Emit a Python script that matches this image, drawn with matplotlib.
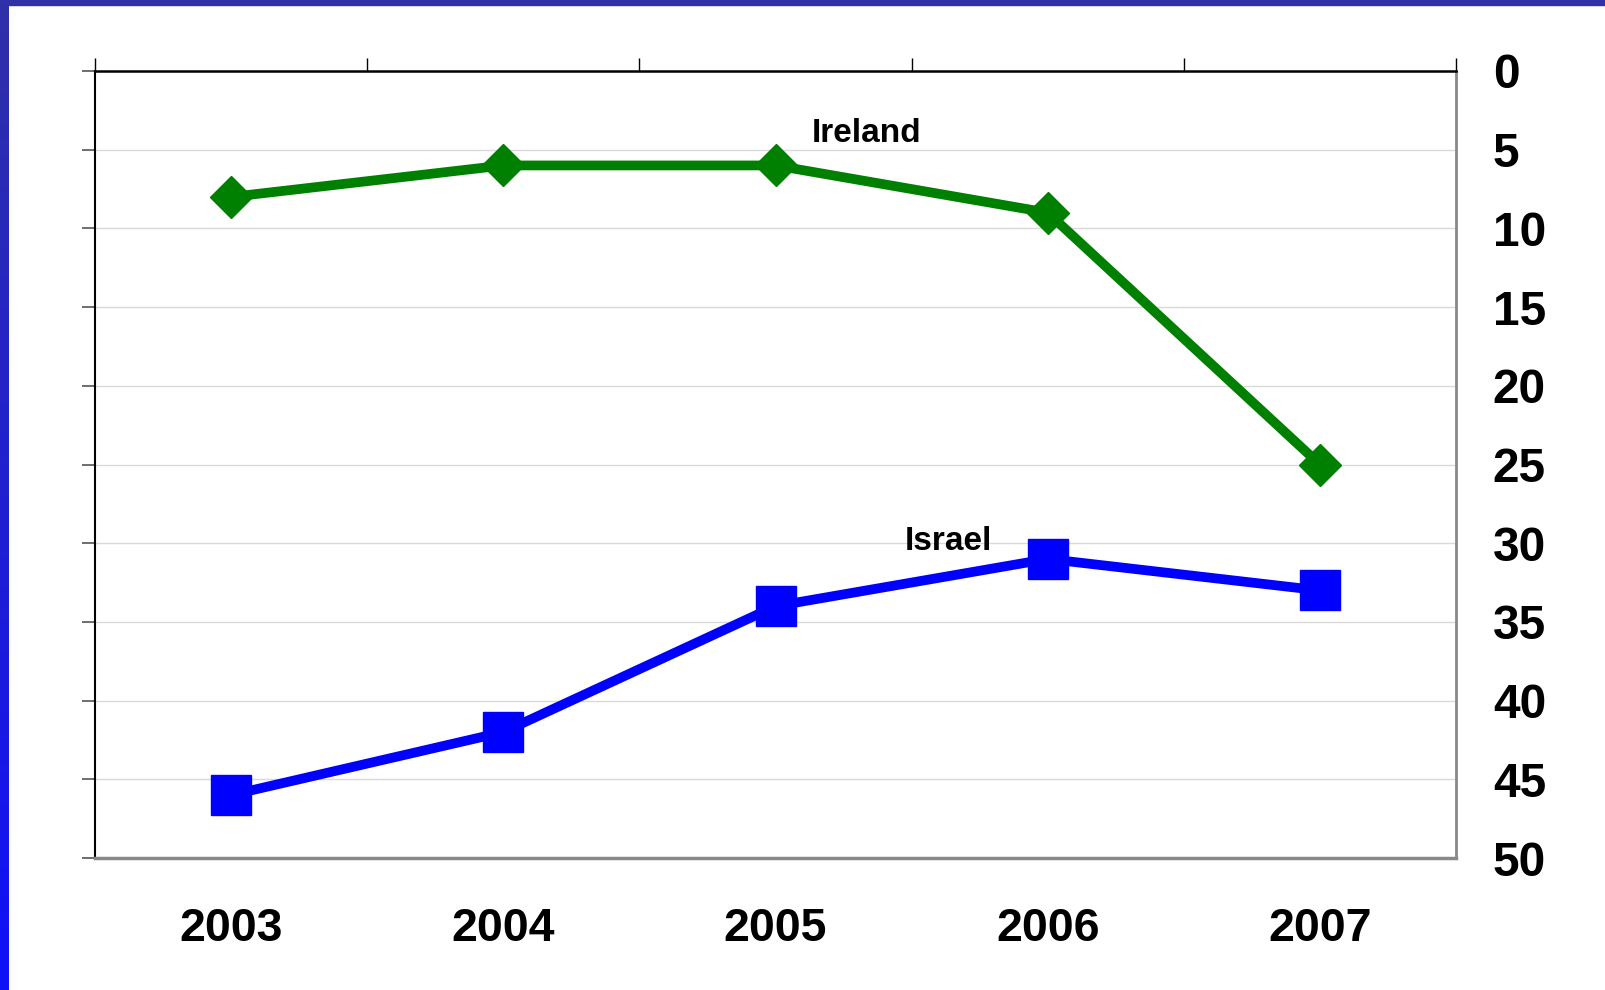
import matplotlib.pyplot as plt
import numpy as np
from matplotlib.patches import Rectangle
from matplotlib.colors import LinearSegmentedColormap

years = ['2003', '2004', '2005', '2006', '2007']
ireland = [8, 6, 6, 9, 25]
israel = [46, 42, 34, 31, 33]
y_ticks = [0, 5, 10, 15, 20, 25, 30, 35, 40, 45, 50]

plt.rcParams['font.family'] = ['Liberation Sans', 'DejaVu Sans']
plt.rcParams['font.weight'] = 'bold'

fig = plt.figure(figsize=(16.05, 9.9), dpi=100)
fig.patch.set_facecolor('white')

# blue frame: bar on top, gradient strip on the left
fig.patches.append(Rectangle((0, 1 - 5 / 990), 1, 5 / 990, transform=fig.transFigure,
                             color='#3030a8', zorder=0))
strip = fig.add_axes([0, 0, 8.5 / 1605, 1])
cmap = LinearSegmentedColormap.from_list('frame', ['#3030a8', '#1010f8'])
strip.imshow(np.linspace(0, 1, 256).reshape(-1, 1), aspect='auto', cmap=cmap)
strip.axis('off')

ax = fig.add_axes([95 / 1605, 1 - 858 / 990, (1456 - 95) / 1605, (858 - 71) / 990])
x = np.arange(len(years))

ax.plot(x, ireland, color='#008000', lw=7, marker='D', ms=21, mec='#008000', zorder=3)
ax.plot(x, israel, color='#0000ff', lw=7, marker='s', ms=28.5, mec='#0000ff', zorder=3)

ax.text(812 / 1605, 1 - 142 / 990, 'Ireland', transform=fig.transFigure, fontsize=24,
        fontweight='bold', ha='left', va='baseline')
ax.text(905 / 1605, 1 - 550 / 990, 'Israel', transform=fig.transFigure, fontsize=24,
        fontweight='bold', ha='left', va='baseline')

ax.set_xlim(-0.5, len(years) - 0.5)
ax.set_ylim(50, 0)

ax.set_xticks(x)
ax.set_xticklabels(years, fontsize=33.5, fontweight='bold')
ax.set_xticks(np.arange(len(years) + 1) - 0.5, minor=True)
ax.tick_params(axis='x', which='major', length=0, pad=35)
ax.tick_params(axis='x', which='minor', bottom=False, top=True, direction='out',
               length=9.5, width=1, color='black')

ax.set_yticks(y_ticks)
ax.set_yticklabels([str(v) for v in y_ticks], fontsize=34.5, fontweight='bold')
ax.tick_params(axis='y', left=True, right=False, labelleft=False, labelright=True,
               direction='out', length=9.5, width=1.2, color='#555555', pad=17)

ax.yaxis.grid(True, color='#d9d9d9', lw=1)
ax.set_axisbelow(True)

ax.spines['left'].set_color('black')
ax.spines['left'].set_linewidth(1.5)
ax.spines['top'].set_color('black')
ax.spines['top'].set_linewidth(1.8)
ax.spines['right'].set_color('#888888')
ax.spines['right'].set_linewidth(2)
ax.spines['bottom'].set_color('#888888')
ax.spines['bottom'].set_linewidth(2.5)

plt.savefig('out.png', dpi=100)
